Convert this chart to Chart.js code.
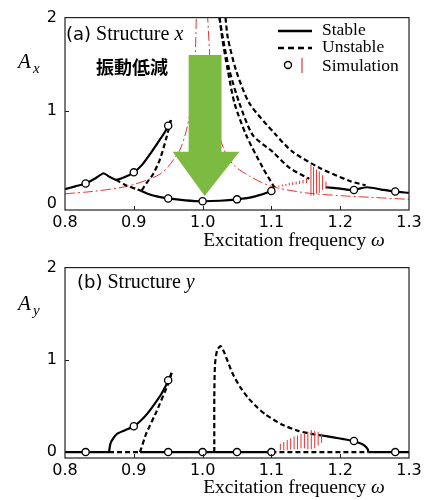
<!DOCTYPE html>
<html>
<head>
<meta charset="utf-8">
<script src="https://cdn.jsdelivr.net/npm/chart.js@4.4.1/dist/chart.umd.min.js"></script>
<style>
	body { margin: 0; background: #fff; }
	canvas { position: absolute; left: 0; }
</style>
</head>
<body>
<canvas id="chartA" width="432" height="250" style="top:0"></canvas>
<canvas id="chartB" width="432" height="250" style="top:250px"></canvas>
<script>
const xTicks = [0.8, 0.9, 1.0, 1.1, 1.2, 1.3];
const yTicks = [0, 1, 2];

// (a) Structure x
const aStableUpX = [0.8, 0.815, 0.83, 0.845, 0.856, 0.865, 0.874, 0.887, 0.9, 0.912, 0.923, 0.935, 0.945, 0.95, 0.954];
const aStableUpY = [0.16, 0.19, 0.22, 0.28, 0.33, 0.29, 0.26, 0.29, 0.34, 0.42, 0.53, 0.66, 0.77, 0.84, 0.9];
const aStableLowX = [0.911, 0.92, 0.935, 0.95, 0.975, 1.0, 1.025, 1.05, 1.075, 1.1, 1.104];
const aStableLowY = [0.14, 0.11, 0.08, 0.06, 0.04, 0.03, 0.035, 0.05, 0.08, 0.14, 0.17];
const aStableRightX = [1.179, 1.2, 1.218, 1.239, 1.26, 1.278, 1.3];
const aStableRightY = [0.18, 0.165, 0.15, 0.18, 0.155, 0.135, 0.12];
const aUnst1X = [0.874, 0.889, 0.904, 0.911];
const aUnst1Y = [0.26, 0.2, 0.16, 0.14];
const aUnst2X = [0.954, 0.947, 0.938, 0.928, 0.918, 0.911];
const aUnst2Y = [0.9, 0.7, 0.48, 0.32, 0.22, 0.14];
const aUnst3X = [1.0246, 1.0285, 1.0367, 1.0464, 1.0633, 1.0874, 1.1043];
const aUnst3Y = [2.0, 1.78, 1.43, 1.08, 0.74, 0.39, 0.18];
const aUnst4X = [1.0246, 1.0295, 1.0391, 1.0536, 1.0729, 1.1019, 1.126, 1.155];
const aUnst4Y = [2.0, 1.78, 1.43, 1.08, 0.74, 0.56, 0.39, 0.27];
const aUnst5X = [1.0333, 1.0367, 1.0488, 1.0681, 1.1068, 1.1309, 1.1696, 1.213, 1.237];
const aUnst5Y = [2.0, 1.78, 1.43, 1.08, 0.74, 0.56, 0.39, 0.25, 0.2];
const aLinearX = [0.8, 0.84, 0.88, 0.9, 0.92, 0.938, 0.95, 0.96, 0.967, 0.975, 0.981, 0.986, 0.989, 0.991, 1.0, 1.007, 1.012, 1.016, 1.022, 1.032, 1.045, 1.068, 1.1, 1.15, 1.2, 1.25, 1.3];
const aLinearY = [0.11, 0.135, 0.175, 0.21, 0.26, 0.32, 0.4, 0.5, 0.58, 0.75, 0.95, 1.15, 1.5, 2.05, null, 2.05, 1.4, 1.08, 0.8, 0.57, 0.42, 0.3, 0.19, 0.12, 0.09, 0.07, 0.05];
const aSimX = [0.83, 0.9, 0.95, 0.95, 1.0, 1.05, 1.1, 1.22, 1.28];
const aSimY = [0.22, 0.34, 0.84, 0.06, 0.03, 0.05, 0.14, 0.15, 0.135];
const aBandX = [1.106, 1.111, 1.116, 1.121, 1.126, 1.131, 1.136, 1.141, 1.146, 1.151, 1.1575, 1.1613, 1.1656, 1.1696, 1.1744, 1.1793];
const aBandLo = [0.18, 0.185, 0.19, 0.195, 0.2, 0.205, 0.21, 0.215, 0.22, 0.225, 0.09, 0.09, 0.11, 0.12, 0.15, 0.16];
const aBandHi = [0.19, 0.2, 0.21, 0.215, 0.225, 0.235, 0.24, 0.25, 0.26, 0.28, 0.42, 0.4, 0.37, 0.35, 0.31, 0.24];

// (b) Structure y
const bZeroSolidX = [0.8, 0.864, 0.88, 0.909, 1.1, 1.2, 1.241, 1.3];
const bZeroSolidY = [0, 0, null, 0, 0, null, 0, 0];
const bZeroDashX = [0.864, 0.909, 1.0, 1.1, 1.241];
const bZeroDashY = [0, 0, null, 0, 0];
const bStableRiseX = [0.864, 0.866, 0.87, 0.876, 0.888, 0.9, 0.91, 0.92, 0.93, 0.94, 0.95, 0.955];
const bStableRiseY = [0, 0.09, 0.15, 0.2, 0.24, 0.28, 0.34, 0.42, 0.52, 0.63, 0.77, 0.86];
const bUnstRiseX = [0.909, 0.918, 0.933, 0.95, 0.955];
const bUnstRiseY = [0, 0.2, 0.44, 0.74, 0.86];
const bUnstPeakX = [1.017, 1.017, 1.018, 1.021, 1.026, 1.032, 1.043, 1.055, 1.067, 1.08, 1.091, 1.115, 1.139, 1.164, 1.1735];
const bUnstPeakY = [0, 0.6, 0.95, 1.1, 1.15, 1.07, 0.86, 0.7, 0.58, 0.48, 0.41, 0.3, 0.23, 0.19, 0.18];
const bStableRightX = [1.1735, 1.19, 1.205, 1.218, 1.231, 1.237, 1.24, 1.241];
const bStableRightY = [0.18, 0.16, 0.14, 0.12, 0.09, 0.06, 0.03, 0];
const bSimX = [0.83, 0.9, 0.95, 0.95, 1.0, 1.05, 1.1, 1.22, 1.28];
const bSimY = [0, 0.28, 0.78, 0, 0, 0, 0, 0.12, 0];
const bBandX = [1.113, 1.118, 1.123, 1.128, 1.133, 1.138, 1.143, 1.148, 1.153, 1.158, 1.163, 1.168, 1.173];
const bBandLo = [0.02, 0.02, 0.02, 0.03, 0.03, 0.03, 0.04, 0.04, 0.03, 0.03, 0.04, 0.07, 0.1];
const bBandHi = [0.09, 0.11, 0.13, 0.15, 0.17, 0.18, 0.2, 0.21, 0.22, 0.24, 0.23, 0.22, 0.2];

const RED = "rgb(238,48,48)";
const SERIF = "'Liberation Serif', 'Times New Roman', serif";
const SANS = "'DejaVu Sans', sans-serif";

const pts = (xs, ys) => xs.map((x, i) => ({ x, y: ys[i] }));
const bars = (xs, lo, hi) => xs.flatMap((x, i) => [{ x, y: lo[i] }, { x, y: hi[i] }, { x, y: null }]);

const stable = (xs, ys, tension = 0.25) => ({
	data: pts(xs, ys), showLine: true, borderColor: "#000", borderWidth: 2.2,
	pointRadius: 0, tension, spanGaps: false,
});
const unstable = (xs, ys, tension = 0.25) => ({
	...stable(xs, ys, tension), borderDash: [5, 3],
});
const circles = (xs, ys) => ({
	data: pts(xs, ys), showLine: false, pointRadius: 3.6, pointBorderWidth: 1.3,
	pointBackgroundColor: "#fff", pointBorderColor: "#000",
});
const simBars = (xs, lo, hi) => ({
	data: bars(xs, lo, hi), showLine: true, borderColor: RED, borderWidth: 1,
	pointRadius: 0, tension: 0, spanGaps: false,
});

// green arrow in data units (annotation, not data)
const arrowShape = { shaftL: 0.9797, shaftR: 1.0275, top: 1.6, base: 0.56, headL: 0.9565, headR: 1.0536, tipX: 1.003, tipY: 0.085 };

const decor = {
	id: "decor",
	afterDatasetDraw(chart, args, opts) {
		if (!opts.arrow || args.index !== chart.data.datasets.length - 1) return;
		const { ctx, scales: { x, y } } = chart;
		const a = arrowShape;
		ctx.save();
		ctx.fillStyle = "rgb(125,186,66)";
		ctx.beginPath();
		ctx.moveTo(x.getPixelForValue(a.shaftL), y.getPixelForValue(a.top));
		ctx.lineTo(x.getPixelForValue(a.shaftR), y.getPixelForValue(a.top));
		ctx.lineTo(x.getPixelForValue(a.shaftR), y.getPixelForValue(a.base));
		ctx.lineTo(x.getPixelForValue(a.headR), y.getPixelForValue(a.base));
		ctx.lineTo(x.getPixelForValue(a.tipX), y.getPixelForValue(a.tipY));
		ctx.lineTo(x.getPixelForValue(a.headL), y.getPixelForValue(a.base));
		ctx.lineTo(x.getPixelForValue(a.shaftL), y.getPixelForValue(a.base));
		ctx.closePath();
		ctx.fill();
		ctx.restore();
	},
	afterDraw(chart, args, opts) {
		const { ctx, chartArea: c, scales: { x, y } } = chart;
		ctx.save();
		// frame and inner ticks
		ctx.strokeStyle = "#222";
		ctx.lineWidth = 1.2;
		ctx.strokeRect(c.left, c.top, c.right - c.left, c.bottom - c.top);
		ctx.lineWidth = 1;
		ctx.beginPath();
		xTicks.slice(1, -1).forEach((v) => {
			const px = Math.round(x.getPixelForValue(v)) + 0.5;
			ctx.moveTo(px, c.bottom);
			ctx.lineTo(px, c.bottom - 4);
		});
		const py = Math.round(y.getPixelForValue(1)) + 0.5;
		ctx.moveTo(c.left, py);
		ctx.lineTo(c.left + 4, py);
		ctx.stroke();

		// panel label
		ctx.fillStyle = "#000";
		ctx.textBaseline = "middle";
		let tx = opts.labelX;
		ctx.font = `18px ${SANS}`;
		ctx.fillText(opts.tag, tx, opts.labelY);
		tx += ctx.measureText(opts.tag).width + 5;
		ctx.font = `20px ${SERIF}`;
		ctx.fillText("Structure", tx, opts.labelY);
		tx += ctx.measureText("Structure ").width;
		ctx.font = `italic 20px ${SERIF}`;
		ctx.fillText(opts.sub, tx, opts.labelY);

		// y title A with subscript
		ctx.font = `italic 21px ${SERIF}`;
		ctx.fillText("A", 18, opts.yTitleY);
		ctx.font = `italic 15px ${SERIF}`;
		ctx.fillText(opts.sub, 33, opts.yTitleY + 7);

		// x title
		ctx.font = `19.5px ${SERIF}`;
		const words = "Excitation frequency ";
		const w = ctx.measureText(words).width;
		ctx.font = `italic 19.5px ${SERIF}`;
		const wo = ctx.measureText("ω").width;
		const x0 = 294 - (w + wo) / 2;
		ctx.fillText("ω", x0 + w, opts.xTitleY);
		ctx.font = `19.5px ${SERIF}`;
		ctx.fillText(words, x0, opts.xTitleY);

		if (opts.note) {
			ctx.font = `bold 18px 'Noto Sans CJK JP', sans-serif`;
			ctx.fillText(opts.note, 96, 67);
		}
		if (opts.legend) {
			ctx.strokeStyle = "#000";
			ctx.lineWidth = 2.4;
			ctx.beginPath();
			ctx.moveTo(278, 31);
			ctx.lineTo(312, 31);
			ctx.stroke();
			ctx.setLineDash([6, 4]);
			ctx.beginPath();
			ctx.moveTo(278, 48);
			ctx.lineTo(312, 48);
			ctx.stroke();
			ctx.setLineDash([]);
			ctx.lineWidth = 1.4;
			ctx.fillStyle = "#fff";
			ctx.beginPath();
			ctx.arc(288, 65, 3.5, 0, Math.PI * 2);
			ctx.fill();
			ctx.stroke();
			ctx.strokeStyle = RED;
			ctx.lineWidth = 1.2;
			ctx.beginPath();
			ctx.moveTo(302, 58);
			ctx.lineTo(302, 73);
			ctx.stroke();
			ctx.fillStyle = "#000";
			ctx.font = `17.5px ${SERIF}`;
			ctx.fillText("Stable", 322, 30);
			ctx.fillText("Unstable", 322, 47);
			ctx.fillText("Simulation", 322, 66);
		}
		ctx.restore();
	},
};

const makeOptions = (xHeight, top, decorOpts) => ({
	responsive: false,
	animation: false,
	layout: { padding: { top, right: 23, left: 0, bottom: 0 } },
	plugins: {
		legend: { display: false },
		tooltip: { enabled: false },
		decor: decorOpts,
	},
	scales: {
		x: {
			type: "linear",
			min: 0.8,
			max: 1.3,
			grid: { display: false, drawTicks: false },
			border: { display: false },
			afterBuildTicks: (s) => { s.ticks = xTicks.map((v) => ({ value: v })); },
			afterFit: (s) => { s.height = xHeight; },
			ticks: {
				padding: 3,
				color: "#000",
				font: { family: SANS, size: 16 },
				callback: (v) => v.toFixed(1),
			},
		},
		y: {
			min: -0.064,
			max: 2,
			grid: { display: false, drawTicks: false },
			border: { display: false },
			afterBuildTicks: (s) => { s.ticks = yTicks.map((v) => ({ value: v })); },
			afterFit: (s) => { s.width = 65; },
			ticks: {
				padding: 8,
				color: "#000",
				font: { family: SANS, size: 16 },
				callback: (v) => String(v),
			},
		},
	},
});

new Chart(document.querySelector("#chartA"), {
	type: "scatter",
	data: {
		datasets: [
			circles(aSimX, aSimY),
			simBars(aBandX, aBandLo, aBandHi),
			stable(aStableUpX, aStableUpY, 0.15),
			stable(aStableLowX, aStableLowY),
			stable(aStableRightX, aStableRightY),
			unstable(aUnst1X, aUnst1Y),
			unstable(aUnst2X, aUnst2Y),
			unstable(aUnst3X, aUnst3Y),
			unstable(aUnst4X, aUnst4Y),
			unstable(aUnst5X, aUnst5Y),
			{
				data: pts(aLinearX, aLinearY), showLine: true, borderColor: RED, borderWidth: 1,
				borderDash: [10, 3, 2, 3], pointRadius: 0, tension: 0.3, spanGaps: false,
			},
		],
	},
	options: makeOptions(40, 13, {
		tag: "(a)", sub: "x", labelX: 66, labelY: 35, yTitleY: 62, xTitleY: 241,
		note: "振動低減", legend: true, arrow: true,
	}),
	plugins: [decor],
});

new Chart(document.querySelector("#chartB"), {
	type: "scatter",
	data: {
		datasets: [
			circles(bSimX, bSimY),
			simBars(bBandX, bBandLo, bBandHi),
			stable(bZeroSolidX, bZeroSolidY, 0),
			stable(bStableRiseX, bStableRiseY),
			stable(bStableRightX, bStableRightY),
			unstable(bZeroDashX, bZeroDashY, 0),
			unstable(bUnstRiseX, bUnstRiseY, 0.1),
			unstable(bUnstPeakX, bUnstPeakY, 0.2),
		],
	},
	options: makeOptions(42, 10, {
		tag: "(b)", sub: "y", labelX: 77, labelY: 33, yTitleY: 54, xTitleY: 238,
	}),
	plugins: [decor],
});
</script>
</body>
</html>
